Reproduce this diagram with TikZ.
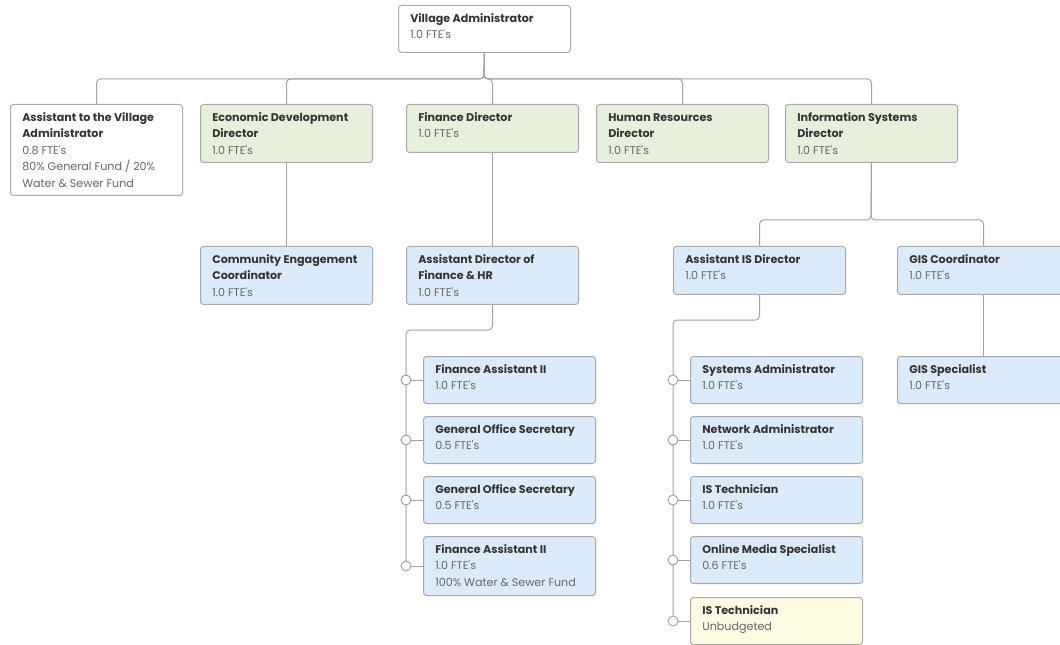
\documentclass[tikz,border=0pt]{standalone}
\usepackage{fontspec}
\setmainfont{Poppins}
\usetikzlibrary{positioning}

\definecolor{boxline}{HTML}{A9A9A9}
\definecolor{linkgray}{HTML}{A3A3A3}
\definecolor{titletext}{HTML}{333333}
\definecolor{bodytext}{HTML}{666666}
\definecolor{dirgreen}{HTML}{E6F0DC}
\definecolor{staffblue}{HTML}{DCEBFC}
\definecolor{openyellow}{HTML}{FDFBE1}

\newcommand{\ttl}[1]{{\strut\bfseries\color{titletext}#1}}
\newcommand{\fte}[1]{#1 FTE\textquotesingle s}

\begin{document}
\begin{tikzpicture}[x=0.75pt, y=-0.75pt,
    box/.style={draw=boxline, line width=0.75pt, rounded corners=2.25pt, anchor=north west,
      minimum width=129pt, inner sep=0pt},
    txt/.style={anchor=north west, align=left, inner sep=0pt,
      font=\fontsize{8.35}{12.4}\selectfont, text=bodytext},
    link/.style={draw=linkgray, line width=0.75pt, rounded corners=3pt},
    dot/.style={circle, draw=linkgray, fill=white, line width=0.75pt, minimum size=7.5pt, inner sep=0pt}]

    \fill[white] (0,0) rectangle (1060,645);
    \useasboundingbox (0,0) rectangle (1060,645);

    % top
    \node[box, fill=white, minimum height=35.25pt] (va) at (398,5) {};
    \node[txt] (va-t) at ([xshift=9pt, yshift=-4pt]va.north west) {\ttl{Village Administrator}\\\fte{1.0}};

    % directors
    \node[box, fill=white, minimum height=68.25pt] (atva) at (10,104) {};
    \node[txt] (atva-t) at ([xshift=9pt, yshift=-4pt]atva.north west)
      {\ttl{Assistant to the Village}\\\ttl{Administrator}\\\fte{0.8}\\80\% General Fund / 20\%\\Water \& Sewer Fund};
    \node[box, fill=dirgreen, minimum height=43.5pt] (edd) at (200,104) {};
    \node[txt] (edd-t) at ([xshift=9pt, yshift=-4pt]edd.north west) {\ttl{Economic Development}\\\ttl{Director}\\\fte{1.0}};
    \node[box, fill=dirgreen, minimum height=36pt] (fd) at (406,104) {};
    \node[txt] (fd-t) at ([xshift=9pt, yshift=-4pt]fd.north west) {\ttl{Finance Director}\\\fte{1.0}};
    \node[box, fill=dirgreen, minimum height=43.5pt] (hrd) at (596,104) {};
    \node[txt] (hrd-t) at ([xshift=9pt, yshift=-4pt]hrd.north west) {\ttl{Human Resources}\\\ttl{Director}\\\fte{1.0}};
    \node[box, fill=dirgreen, minimum height=43.5pt] (isd) at (785,104) {};
    \node[txt] (isd-t) at ([xshift=9pt, yshift=-4pt]isd.north west) {\ttl{Information Systems}\\\ttl{Director}\\\fte{1.0}};

    % second row
    \node[box, fill=staffblue, minimum height=43.5pt] (ceco) at (200,246) {};
    \node[txt] (ceco-t) at ([xshift=9pt, yshift=-4pt]ceco.north west) {\ttl{Community Engagement}\\\ttl{Coordinator}\\\fte{1.0}};
    \node[box, fill=staffblue, minimum height=43.5pt] (adf) at (406,246) {};
    \node[txt] (adf-t) at ([xshift=9pt, yshift=-4pt]adf.north west) {\ttl{Assistant Director of}\\\ttl{Finance \& HR}\\\fte{1.0}};
    \node[box, fill=staffblue, minimum height=36pt] (aisd) at (673,246) {};
    \node[txt] (aisd-t) at ([xshift=9pt, yshift=-4pt]aisd.north west) {\ttl{Assistant IS Director}\\\fte{1.0}};
    \node[box, fill=staffblue, minimum height=36pt] (gisc) at (897,246) {};
    \node[txt] (gisc-t) at ([xshift=9pt, yshift=-4pt]gisc.north west) {\ttl{GIS Coordinator}\\\fte{1.0}};

    % finance staff
    \node[box, fill=staffblue, minimum height=35.25pt] (fa1) at (423,356) {};
    \node[txt] (fa1-t) at ([xshift=9pt, yshift=-4pt]fa1.north west) {\ttl{Finance Assistant II}\\\fte{1.0}};
    \node[box, fill=staffblue, minimum height=35.25pt] (gos1) at (423,416) {};
    \node[txt] (gos1-t) at ([xshift=9pt, yshift=-4pt]gos1.north west) {\ttl{General Office Secretary}\\\fte{0.5}};
    \node[box, fill=staffblue, minimum height=35.25pt] (gos2) at (423,476) {};
    \node[txt] (gos2-t) at ([xshift=9pt, yshift=-4pt]gos2.north west) {\ttl{General Office Secretary}\\\fte{0.5}};
    \node[box, fill=staffblue, minimum height=44.25pt] (fa2) at (423,536) {};
    \node[txt] (fa2-t) at ([xshift=9pt, yshift=-4pt]fa2.north west) {\ttl{Finance Assistant II}\\\fte{1.0}\\100\% Water \& Sewer Fund};

    % IS staff
    \node[box, fill=staffblue, minimum height=35.25pt] (sa) at (690,356) {};
    \node[txt] (sa-t) at ([xshift=9pt, yshift=-4pt]sa.north west) {\ttl{Systems Administrator}\\\fte{1.0}};
    \node[box, fill=staffblue, minimum height=35.25pt] (na) at (690,416) {};
    \node[txt] (na-t) at ([xshift=9pt, yshift=-4pt]na.north west) {\ttl{Network Administrator}\\\fte{1.0}};
    \node[box, fill=staffblue, minimum height=35.25pt] (ist1) at (690,476) {};
    \node[txt] (ist1-t) at ([xshift=9pt, yshift=-4pt]ist1.north west) {\ttl{IS Technician}\\\fte{1.0}};
    \node[box, fill=staffblue, minimum height=35.25pt] (oms) at (690,536) {};
    \node[txt] (oms-t) at ([xshift=9pt, yshift=-4pt]oms.north west) {\ttl{Online Media Specialist}\\\fte{0.6}};
    \node[box, fill=openyellow, minimum height=35.25pt] (ist2) at (690,597) {};
    \node[txt] (ist2-t) at ([xshift=9pt, yshift=-4pt]ist2.north west) {\ttl{IS Technician}\\Unbudgeted};

    % GIS staff
    \node[box, fill=staffblue, minimum height=35.25pt] (giss) at (897,356) {};
    \node[txt] (giss-t) at ([xshift=9pt, yshift=-4pt]giss.north west) {\ttl{GIS Specialist}\\\fte{1.0}};

    % connectors
    \coordinate (bus) at (484,79);
    \foreach \n in {atva,edd,fd,hrd,isd}
      \draw[link] (va.south) -- (bus) -| (\n.north);
    \draw[link] (edd.south) -- (ceco.north);
    \draw[link] (fd.south) -- (adf.north);

    \coordinate (isbus) at (871,220);
    \draw[link] (isd.south) -- (isbus) -| (aisd.north);
    \draw[link] (isd.south) -- (isbus) -| (gisc.north);
    \draw[link] (gisc.south) -- (giss.north);

    \coordinate (fbus) at (406,330);
    \draw[link] (adf.south) |- (fbus) -- (fa2.west -| fbus);
    \coordinate (ibus) at (673,320);
    \draw[link] (aisd.south) |- (ibus) -- (ist2.west -| ibus);

    \foreach \n in {fa1,gos1,gos2,fa2} {
      \draw[link] (\n.west) -- (\n.west -| fbus);
      \node[dot] (\n-c) at (\n.west -| fbus) {};
    }
    \foreach \n in {sa,na,ist1,oms,ist2} {
      \draw[link] (\n.west) -- (\n.west -| ibus);
      \node[dot] (\n-c) at (\n.west -| ibus) {};
    }
\end{tikzpicture}
\end{document}
